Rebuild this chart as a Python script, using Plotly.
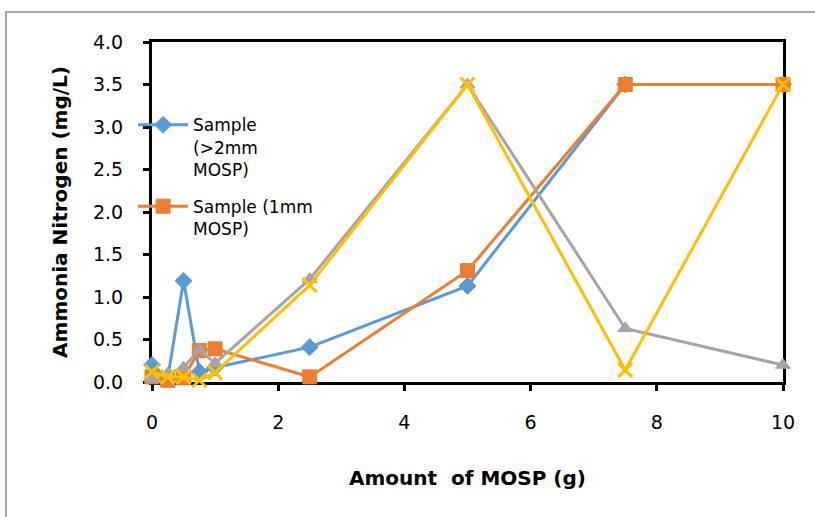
import plotly.graph_objects as go

# Data
x_amount = [0, 0.25, 0.5, 0.75, 1, 2.5, 5, 7.5, 10]
sample_gt2mm = [0.20, 0.05, 1.19, 0.12, 0.17, 0.41, 1.13, 3.5, 3.5]
sample_1mm = [0.06, 0.02, 0.05, 0.37, 0.39, 0.06, 1.31, 3.5, 3.5]
sample_3 = [0.03, 0.10, 0.17, 0.38, 0.22, 1.21, 3.5, 0.63, 0.20]
sample_4 = [0.12, 0.06, 0.06, 0.02, 0.11, 1.14, 3.5, 0.14, 3.5]

x_ticks = [0, 2, 4, 6, 8, 10]
y_ticks = [0.0, 0.5, 1.0, 1.5, 2.0, 2.5, 3.0, 3.5, 4.0]
y_ticklabels = [f"{v:.1f}" for v in y_ticks]

FONT = "DejaVu Sans"

series = [
    ("Sample<br>(>2mm<br>MOSP)", sample_gt2mm, "#5B9BD5", dict(symbol="diamond", size=13), True),
    ("Sample (1mm<br>MOSP)", sample_1mm, "#ED7D31", dict(symbol="square", size=14), True),
    ("Sample (series 3)", sample_3, "#A5A5A5", dict(symbol="triangle-up", size=13), False),
    ("Sample (series 4)", sample_4, "#FFC000", dict(symbol="x-thin", size=14), False),
]

fig = go.Figure()
for i, (name, ys, color, mk, show) in enumerate(series):
    marker = dict(color=color, **mk)
    if mk["symbol"] == "x-thin":
        marker["line"] = dict(color=color, width=3)
    else:
        marker["line"] = dict(color=color, width=1)
    fig.add_trace(go.Scatter(
        x=x_amount, y=ys, name=name, mode="lines+markers",
        line=dict(color=color, width=3), marker=marker,
        showlegend=show, legendgroup=f"g{i}", cliponaxis=False,
    ))

fig.update_layout(
    width=815, height=517,
    margin=dict(l=152, r=32, t=42, b=135),
    paper_bgcolor="white", plot_bgcolor="white",
    font=dict(family=FONT, color="black"),
    legend=dict(
        x=-0.03, y=0.808, xanchor="left", yanchor="top",
        bgcolor="rgba(0,0,0,0)", font=dict(size=17, family=FONT),
        valign="top", tracegroupgap=12, itemwidth=50,
    ),
    shapes=[dict(
        type="rect", xref="paper", yref="paper",
        x0=-0.2314, x1=1.07, y0=-0.42, y1=1.088,
        line=dict(color="#8c8c8c", width=1.5), fillcolor="rgba(0,0,0,0)",
        layer="below",
    )],
)

fig.update_xaxes(
    range=[0, 10], tickvals=x_ticks, ticktext=[str(v) for v in x_ticks],
    showgrid=False, zeroline=False,
    showline=True, linecolor="black", linewidth=3, mirror=True,
    ticks="outside", ticklen=6, tickwidth=3, tickcolor="black",
    tickfont=dict(size=19, family=FONT), ticklabelstandoff=15,
    layer="below traces",
    title=dict(text="Amount\u00a0 of MOSP (g)", standoff=40,
               font=dict(size=20, family=FONT, weight="bold")),
)
fig.update_yaxes(
    range=[0, 4], tickvals=y_ticks, ticktext=y_ticklabels,
    showgrid=False, zeroline=False,
    showline=True, linecolor="black", linewidth=3, mirror=True,
    ticks="outside", ticklen=6, tickwidth=3, tickcolor="black",
    tickfont=dict(size=19, family=FONT), ticklabelstandoff=16,
    layer="below traces",
    title=dict(text="Ammonia Nitrogen (mg/L)", standoff=20,
               font=dict(size=20, family=FONT, weight="bold")),
)

fig.write_html("out.html")
